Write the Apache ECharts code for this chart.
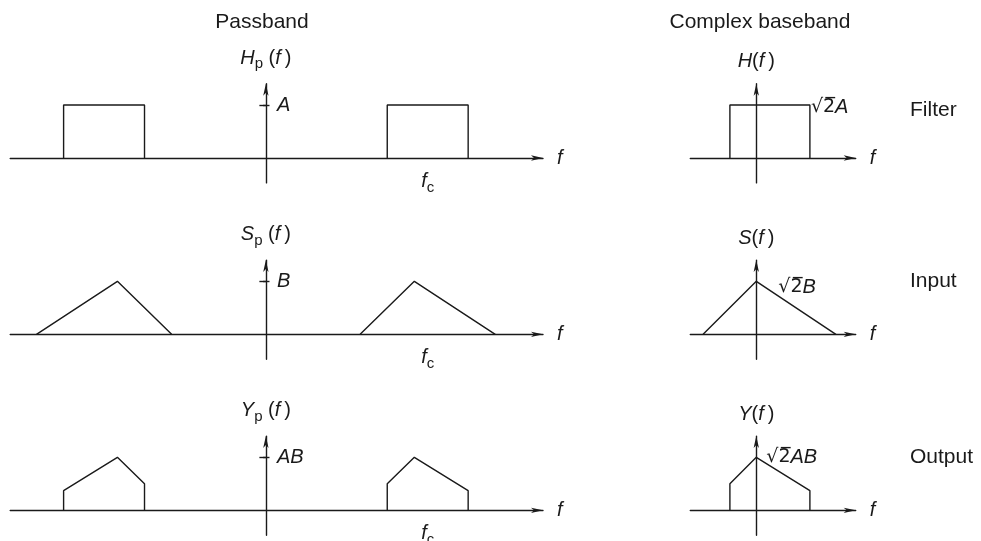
<html>
<head>
<meta charset="utf-8">
<script src="https://cdn.jsdelivr.net/npm/echarts@6.0.0/dist/echarts.min.js"></script>
<style>html,body{margin:0;padding:0;background:#fff;}</style>
</head>
<body>
<div id="main" style="width:981px;height:541px;"></div>
<pre id="err" style="position:absolute;left:0;top:0;font-size:10px;margin:0;"></pre>
<script type="text/javascript">
// passband: carrier at fc = 4 (arbitrary frequency units)
var fcTick = [4];
var levelTick = [1];

// filter H_p(f)
var filterLeft = [[-5, 0], [-5, 1], [-3, 1], [-3, 0]];
var filterRight = [[3, 0], [3, 1], [5, 1], [5, 0]];
// input S_p(f)
var inputLeft = [[-5.67, 0], [-3.67, 1], [-2.33, 0]];
var inputRight = [[2.33, 0], [3.67, 1], [5.67, 0]];
// output Y_p(f)
var outputLeft = [[-5, 0], [-5, 0.37], [-3.67, 1], [-3, 0.5], [-3, 0]];
var outputRight = [[3, 0], [3, 0.5], [3.67, 1], [5, 0.37], [5, 0]];

// complex baseband
var bbFilter = [[-0.66, 0], [-0.66, 1], [1.34, 1], [1.34, 0]];
var bbInput = [[-1.33, 0], [0, 1], [1.99, 0]];
var bbOutput = [[-0.66, 0], [-0.66, 0.5], [0, 1], [1.34, 0.37], [1.34, 0]];

var rowNames = ['Filter', 'Input', 'Output'];
var pbSymbols = ['H', 'S', 'Y'];
var bbSymbols = ['H', 'S', 'Y'];
var levelNames = ['A', 'B', 'AB'];
var bbLevelNames = ['A', 'B', 'AB'];

var FONT = '"Liberation Sans", Arial, sans-serif';
var INK = '#1a1a1a';
function line() { return { color: INK, width: 1.4 }; }
function richStyles() {
    return {
        i: { fontStyle: 'italic', fontSize: 20, fontFamily: FONT, color: INK },
        n: { fontSize: 20, fontFamily: FONT, color: INK },
        r: { fontSize: 19, fontFamily: '"DejaVu Sans"', color: INK },
        s: { fontSize: 15, fontFamily: FONT, color: INK, padding: [12, 0, 0, 0] }
    };
}

try {
var myChart = echarts.init(document.getElementById('main'));

var rowAxisY = [158, 334.3, 510.3];
var yMin = -0.47, yMax = 1.4, pxPerY = 53;
var pbLeft = 10.2, pbWidth = 532.8, pbZeroX = 263;

var grids = [], xAxes = [], yAxes = [], series = [];
var pbData = [[filterLeft, filterRight], [inputLeft, inputRight], [outputLeft, outputRight]];
var bbData = [bbFilter, bbInput, bbOutput];
var bbLabelIdx = [2, 1, 2];
var bbLabelOffset = [[-4, 2], [17, 6], [5, 0]];

for (var r = 0; r < 3; r++) {
    var gTop = rowAxisY[r] - yMax * pxPerY;
    var gHeight = (yMax - yMin) * pxPerY;

    // passband panel
    var g = grids.length;
    grids.push({ left: pbLeft, width: pbWidth, top: gTop, height: gHeight, outerBoundsMode: 'none', containLabel: false });
    xAxes.push({
        type: 'value', gridIndex: g, min: -6.32, max: 6.85,
        axisLine: { onZero: true, lineStyle: line(), symbol: ['none', 'arrow'], symbolSize: [4, 12] },
        axisTick: { show: false }, splitLine: { show: false },
        axisLabel: { customValues: fcTick, formatter: '{i|f}{s|c}', rich: richStyles(), margin: -15 },
        name: '{i|f}', nameLocation: 'end', nameGap: 14, nameTextStyle: { rich: richStyles() }
    });
    var ym = yAxes.length;
    yAxes.push({
        type: 'value', gridIndex: g, min: yMin, max: yMax,
        axisLine: { show: true, onZero: true, lineStyle: line(), symbol: ['none', 'arrow'], symbolSize: [4, 12] },
        axisTick: { show: true, customValues: levelTick, length: 6.5, lineStyle: line() },
        axisLabel: { show: false }, splitLine: { show: false },
        name: '{i|' + pbSymbols[r] + '}{s|p}{n| (}{i|f}{n|\u2009)}', nameLocation: 'end', nameGap: 12,
        nameTextStyle: { rich: richStyles(), align: 'center' }
    });
    // second y axis, moved onto f = 0, carries the right half of the level tick and its label
    yAxes.push({
        type: 'value', gridIndex: g, min: yMin, max: yMax, position: 'right',
        offset: -(pbLeft + pbWidth - pbZeroX),
        axisLine: { show: false, onZero: false },
        axisTick: { show: true, customValues: levelTick, length: 6.5, lineStyle: line() },
        axisLabel: { customValues: levelTick, formatter: '{i|' + levelNames[r] + '}', rich: richStyles(), margin: 14 },
        splitLine: { show: false }
    });
    for (var s = 0; s < pbData[r].length; s++) {
        series.push({ type: 'line', xAxisIndex: g, yAxisIndex: ym, data: pbData[r][s], symbol: 'none', lineStyle: line(), silent: true });
    }

    // complex baseband panel
    var gb = grids.length;
    grids.push({ left: 690.3, width: 165.4, top: gTop, height: gHeight, outerBoundsMode: 'none', containLabel: false });
    xAxes.push({
        type: 'value', gridIndex: gb, min: -1.65, max: 2.485,
        axisLine: { onZero: true, lineStyle: line(), symbol: ['none', 'arrow'], symbolSize: [4, 12] },
        axisTick: { show: false }, splitLine: { show: false }, axisLabel: { show: false },
        name: '{i|f}', nameLocation: 'end', nameGap: 14, nameTextStyle: { rich: richStyles() }
    });
    var yb = yAxes.length;
    yAxes.push({
        type: 'value', gridIndex: gb, min: yMin, max: yMax,
        axisLine: { show: true, onZero: true, lineStyle: line(), symbol: ['none', 'arrow'], symbolSize: [4, 12] },
        axisTick: { show: false }, axisLabel: { show: false }, splitLine: { show: false },
        name: '{i|' + bbSymbols[r] + '}{n|(}{i|f}{n|\u2009)}', nameLocation: 'end', nameGap: 12,
        nameTextStyle: { rich: richStyles(), align: 'center' }
    });
    var li = bbLabelIdx[r];
    var bbSeriesData = [];
    for (var k = 0; k < bbData[r].length; k++) {
        var p = bbData[r][k];
        if (k !== li) { bbSeriesData.push(p); continue; }
        bbSeriesData.push({
            value: p,
            symbol: 'circle', symbolSize: 0,
            label: {
                show: true, position: 'right', distance: 5, offset: bbLabelOffset[r],
                formatter: '{r|\u221a2\u0305}{i|' + bbLevelNames[r] + '}', rich: richStyles()
            }
        });
    }
    series.push({ type: 'line', xAxisIndex: gb, yAxisIndex: yb, data: bbSeriesData, symbol: 'none', showSymbol: true, lineStyle: line(), silent: true });
}

var graphics = [
    { type: 'text', x: 262, y: 22, style: { text: 'Passband', font: '21px ' + FONT, fill: INK, align: 'center', verticalAlign: 'middle' } },
    { type: 'text', x: 760, y: 22, style: { text: 'Complex baseband', font: '21px ' + FONT, fill: INK, align: 'center', verticalAlign: 'middle' } }
];
var rowLabelY = [110, 281, 457.5];
for (var q = 0; q < 3; q++) {
    graphics.push({ type: 'text', x: 910, y: rowLabelY[q], style: { text: rowNames[q], font: '21px ' + FONT, fill: INK, align: 'left', verticalAlign: 'middle' } });
}

var option = {
    backgroundColor: '#ffffff',
    animation: false,
    grid: grids,
    xAxis: xAxes,
    yAxis: yAxes,
    series: series,
    graphic: graphics
};

myChart.setOption(option);
} catch (e) {
    document.getElementById('err').textContent = String(e && e.stack || e).slice(0, 3000);
}
</script>
</body>
</html>
